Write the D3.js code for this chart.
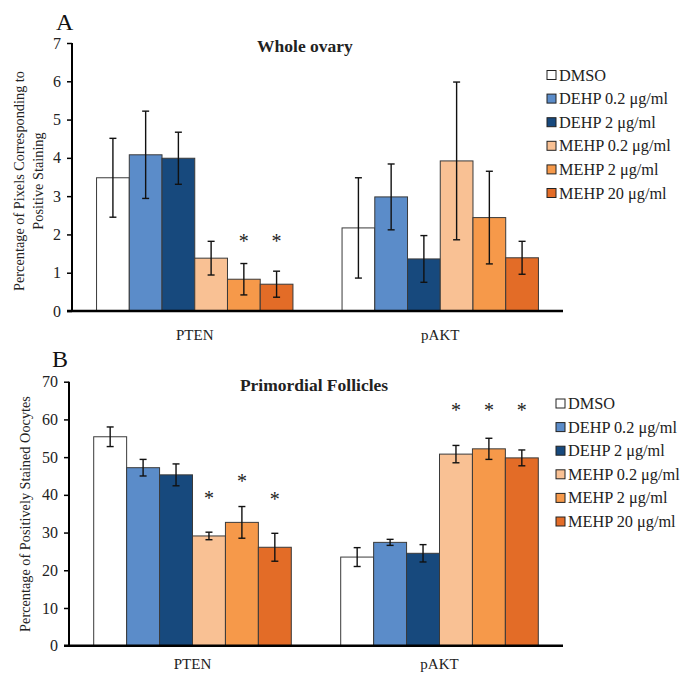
<!DOCTYPE html>
<html>
<head>
<meta charset="utf-8">
<script src="https://cdn.jsdelivr.net/npm/d3@7/dist/d3.min.js"></script>
<style>
  body { margin: 0; background: #fff; }
  svg { display: block; font-family: "Liberation Serif", "Times New Roman", serif; }
</style>
</head>
<body>
<svg width="680" height="673"></svg>
<script>
var categories = ['PTEN', 'pAKT'];
var groups = ['DMSO', 'DEHP 0.2 \u03bcg/ml', 'DEHP 2 \u03bcg/ml', 'MEHP 0.2 \u03bcg/ml', 'MEHP 2 \u03bcg/ml', 'MEHP 20 \u03bcg/ml'];
var colors = ['#ffffff', '#5b8cc9', '#17497d', '#f9c194', '#f6994a', '#e36c27'];

// panel A: whole ovary, % pixels (mean, error)
var ovaryPTEN = [3.48, 4.08, 3.99, 1.38, 0.83, 0.70];
var ovaryPTENerr = [1.03, 1.14, 0.68, 0.44, 0.41, 0.34];
var ovaryPAKT = [2.17, 2.98, 1.36, 3.92, 2.44, 1.39];
var ovaryPAKTerr = [1.31, 0.86, 0.61, 2.06, 1.21, 0.43];
// height (data units) of the significance stars, null = none
var ovaryPTENstar = [null, null, null, null, 1.9, 1.9];
var ovaryPAKTstar = [null, null, null, null, null, null];
var ovaryTicks = [0, 1, 2, 3, 4, 5, 6, 7];

// panel B: primordial follicles, % stained oocytes
var follPTEN = [55.4, 47.2, 45.3, 29.1, 32.7, 26.1];
var follPTENerr = [2.6, 2.2, 2.9, 1.0, 4.2, 3.7];
var follPAKT = [23.5, 27.4, 24.5, 50.8, 52.2, 49.8];
var follPAKTerr = [2.5, 0.8, 2.3, 2.3, 2.8, 2.1];
var follPTENstar = [null, null, null, 39.9, 44.4, 39.8];
var follPAKTstar = [null, null, null, 63.4, 63.4, 63.4];
var follTicks = [0, 10, 20, 30, 40, 50, 60, 70];

var svg = d3.select('svg');

function rows(values, errs, stars) {
    return values.map(function(v, i) {
        return { group: groups[i], color: colors[i], value: v, err: errs[i], star: stars[i] };
    });
}

function draw_panel(p) {
    var g = svg.append('g');

    var x0 = d3.scaleBand().domain(categories).range([p.left, 563]);
    var x1 = d3.scaleBand().domain(groups).range([0, x0.bandwidth()]).paddingOuter(0.75);
    var y = d3.scaleLinear().domain([0, d3.max(p.ticks)]).range([p.bottom, p.top]);

    var cat = g.selectAll('g.cat')
        .data(p.data)
        .enter()
        .append('g')
        .attr('transform', function(d, i) { return 'translate(' + x0(categories[i]) + ',0)'; });

    cat.selectAll('rect')
        .data(function(d) { return d; })
        .enter()
        .append('rect')
        .attr('x', function(d) { return x1(d.group); })
        .attr('y', function(d) { return y(d.value); })
        .attr('width', x1.bandwidth())
        .attr('height', function(d) { return y(0) - y(d.value); })
        .attr('fill', function(d) { return d.color; })
        .attr('stroke', '#3a3a3a')
        .attr('stroke-width', 1);

    var eb = cat.selectAll('g.err')
        .data(function(d) { return d; })
        .enter()
        .append('g')
        .attr('stroke', '#111')
        .attr('stroke-width', 1.4)
        .attr('transform', function(d) { return 'translate(' + (x1(d.group) + x1.bandwidth() / 2) + ',0)'; });
    eb.append('line')
        .attr('y1', function(d) { return y(d.value + d.err); })
        .attr('y2', function(d) { return y(d.value - d.err); });
    eb.append('line').attr('x1', -3.5).attr('x2', 3.5)
        .attr('y1', function(d) { return y(d.value + d.err); })
        .attr('y2', function(d) { return y(d.value + d.err); });
    eb.append('line').attr('x1', -3.5).attr('x2', 3.5)
        .attr('y1', function(d) { return y(d.value - d.err); })
        .attr('y2', function(d) { return y(d.value - d.err); });

    cat.selectAll('text.star')
        .data(function(d) { return d.filter(function(r) { return r.star !== null; }); })
        .enter()
        .append('text')
        .attr('x', function(d) { return x1(d.group) + x1.bandwidth() / 2; })
        .attr('y', function(d) { return y(d.star) + 10; })
        .attr('text-anchor', 'middle')
        .attr('font-size', 20)
        .attr('fill', '#222')
        .text('*');

    var yAxis = g.append('g')
        .attr('transform', 'translate(' + p.left + ',0)')
        .call(d3.axisLeft(y).tickValues(p.ticks).tickSize(5).tickPadding(6).tickFormat(d3.format('d')));
    yAxis.select('.domain').attr('stroke', '#000').attr('stroke-width', 2).attr('d', 'M0,' + p.top + 'V' + p.bottom);
    yAxis.selectAll('.tick line').attr('stroke', '#000').attr('stroke-width', 1.5);
    yAxis.selectAll('.tick text')
        .attr('font-family', 'Liberation Serif')
        .attr('font-size', 16)
        .attr('fill', '#222');

    g.append('line')
        .attr('x1', p.left - 5).attr('x2', 563)
        .attr('y1', y(0)).attr('y2', y(0))
        .attr('stroke', '#000')
        .attr('stroke-width', 2.5);

    g.selectAll('text.cat')
        .data(categories)
        .enter()
        .append('text')
        .attr('x', function(d) { return x0(d) + x0.bandwidth() / 2; })
        .attr('y', p.catY)
        .attr('text-anchor', 'middle')
        .attr('font-size', 15)
        .attr('fill', '#222')
        .text(function(d) { return d; });

    g.append('text')
        .attr('x', p.titleX)
        .attr('y', p.top + 9)
        .attr('text-anchor', 'middle')
        .attr('font-size', 17.5)
        .attr('font-weight', 'bold')
        .attr('fill', '#222')
        .text(p.title);

    g.append('text')
        .attr('x', p.letterX)
        .attr('y', p.letterY)
        .attr('font-size', 24)
        .attr('fill', '#111')
        .text(p.letter);

    p.ylabel.forEach(function(line, i) {
        g.append('text')
            .attr('transform', 'translate(' + p.ylabelX[i] + ',' + p.ylabelY + ') rotate(-90)')
            .attr('text-anchor', 'middle')
            .attr('font-size', 14.3)
            .attr('fill', '#222')
            .text(line);
    });

    var leg = g.selectAll('g.leg')
        .data(groups)
        .enter()
        .append('g')
        .attr('transform', function(d, i) { return 'translate(' + p.legendX + ',' + (p.legendY + i * 23.6) + ')'; });
    leg.append('rect')
        .attr('x', 0).attr('y', -4.5)
        .attr('width', 9).attr('height', 9)
        .attr('fill', function(d, i) { return colors[i]; })
        .attr('stroke', '#222')
        .attr('stroke-width', 1);
    leg.append('text')
        .attr('x', 12)
        .attr('y', 5.5)
        .attr('font-size', 16.3)
        .attr('fill', '#222')
        .text(function(d) { return d; });
}

draw_panel({
    data: [rows(ovaryPTEN, ovaryPTENerr, ovaryPTENstar), rows(ovaryPAKT, ovaryPAKTerr, ovaryPAKTstar)],
    ticks: ovaryTicks,
    left: 72, top: 43, bottom: 311, catY: 340,
    title: 'Whole ovary', titleX: 305,
    letter: 'A', letterX: 56, letterY: 30,
    ylabel: ['Percentage of Pixels Corresponding to', 'Positive Staining'],
    ylabelX: [24, 43], ylabelY: 181,
    legendX: 547, legendY: 75
});

draw_panel({
    data: [rows(follPTEN, follPTENerr, follPTENstar), rows(follPAKT, follPAKTerr, follPAKTstar)],
    ticks: follTicks,
    left: 69, top: 381.7, bottom: 645.7, catY: 669,
    title: 'Primordial Follicles', titleX: 314,
    letter: 'B', letterX: 52, letterY: 367,
    ylabel: ['Percentage of Positively Stained Oocytes'],
    ylabelX: [30], ylabelY: 514,
    legendX: 556, legendY: 403.5
});
</script>
</body>
</html>
